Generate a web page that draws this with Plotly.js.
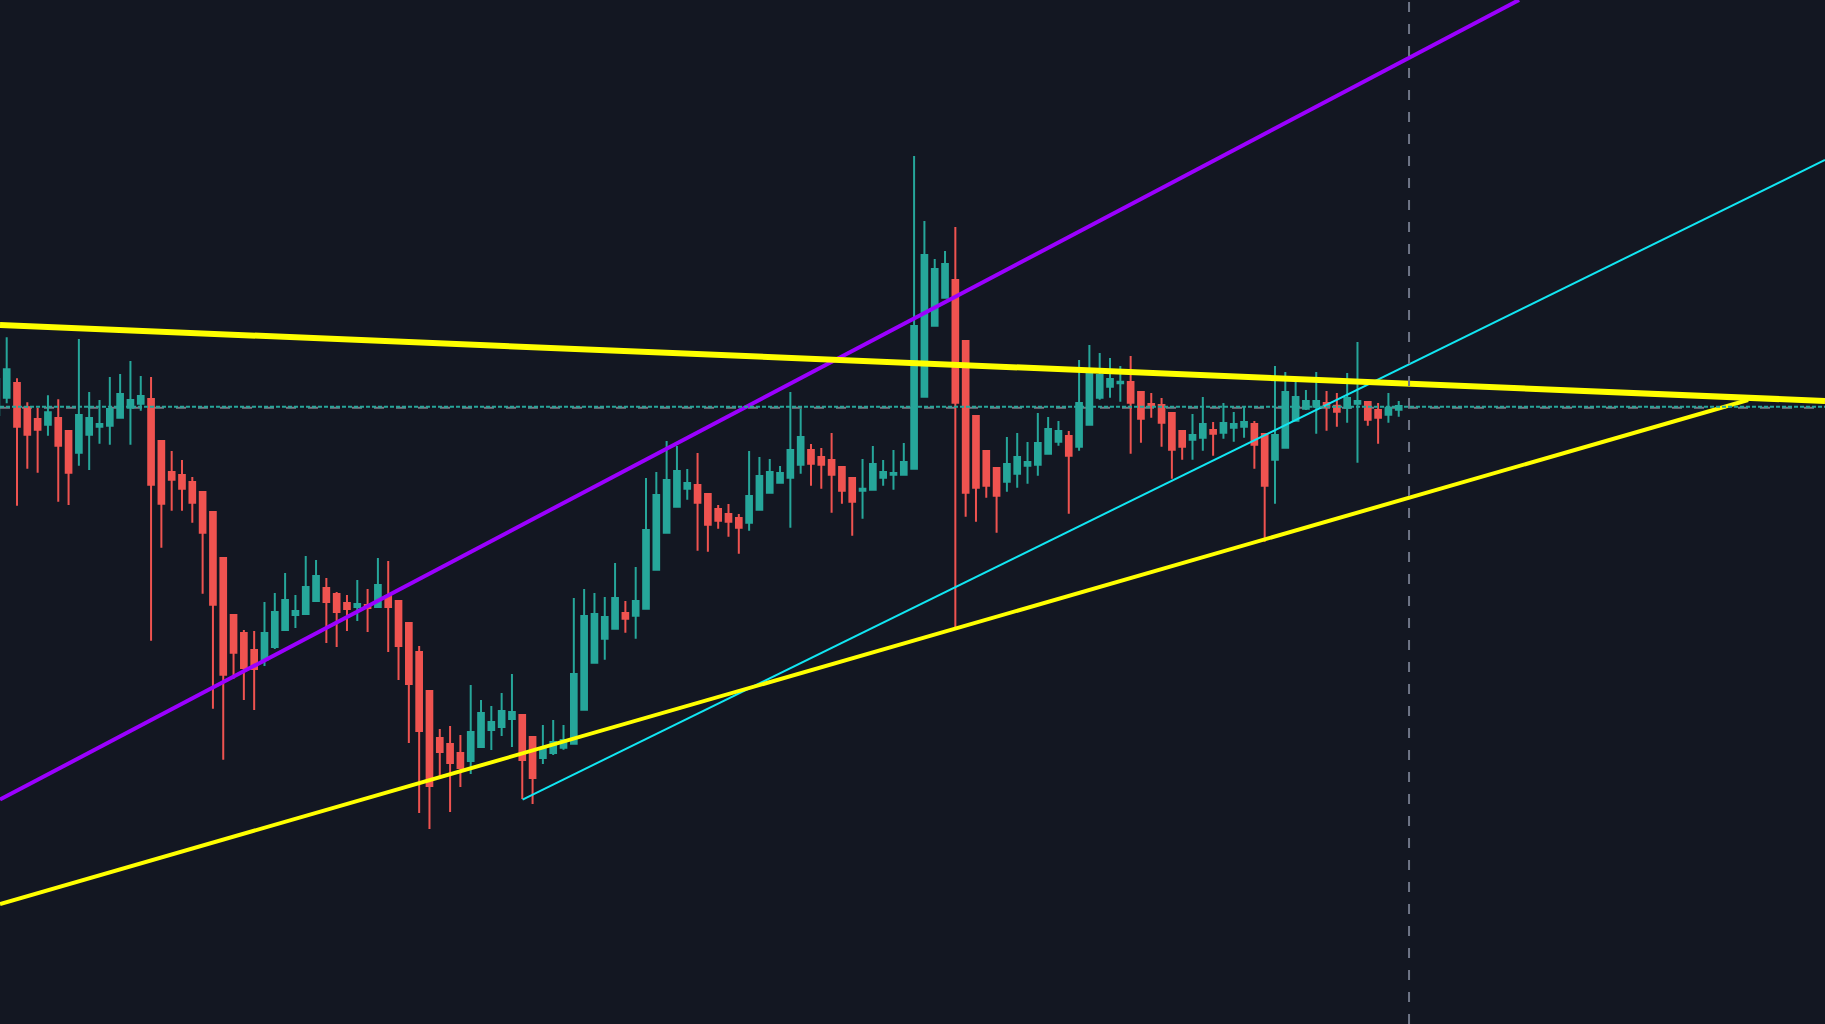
<!DOCTYPE html>
<html>
<head>
<meta charset="utf-8">
<script src="https://cdn.plot.ly/plotly-3.0.1.min.js"></script>
<style>
  html, body { margin: 0; padding: 0; background: #131722; overflow: hidden; }
  #chart { width: 1825px; height: 1024px; }
</style>
</head>
<body>
<div id="chart"></div>
<script>
// ---- Candle data (bar index -1 .. 135) ----
const openP = [
  60.9, 62.63, 64.1, 61.67, 60.5, 59.93, 60.6, 59.3, 57.13, 58.93, 59.73,
  59.83, 60.63, 61.63, 62.03, 62.5, 58.3, 55.2, 54.9, 54.2, 53.2,
  51.2, 46.6, 40.9, 39.1, 37.4, 36.4, 37.7, 39.4, 40.9, 41.0,
  42.3, 43.6, 43.0, 42.1, 41.7, 41.9, 41.7, 42.8, 42.3, 40.1,
  37.2, 33.3, 28.6, 28.0, 27.1, 26.3, 27.7, 29.4, 29.7, 30.5,
  30.9, 28.7, 26.6, 27.1, 27.63, 28.03, 31.43, 36.13, 38.53, 39.53,
  41.1, 40.83, 41.53, 45.43, 49.13, 51.73, 53.53, 53.9, 53.0, 51.5,
  51.0, 50.6, 50.13, 51.43, 53.13, 54.13, 54.63, 55.93, 57.4, 56.7,
  56.4, 55.7, 54.6, 53.33, 53.43, 54.63, 54.93, 54.93, 55.53, 62.73,
  69.83, 72.63, 74.4, 68.3, 60.8, 57.3, 55.6, 54.23, 55.03, 55.83,
  55.93, 57.03, 58.23, 58.8, 57.73, 59.93, 62.63, 63.73, 64.07, 64.2,
  63.2, 62.0, 61.9, 61.1, 59.3, 58.43, 58.63, 59.4, 59.13, 59.63,
  59.73, 60.0, 59.0, 56.43, 57.63, 60.33, 61.53, 61.73, 62.1, 61.83,
  61.63, 62.03, 62.2, 61.4, 60.93, 61.43
];
const highP = [
  65.2, 68.67, 64.57, 62.17, 61.63, 62.87, 62.47, 59.3, 68.5, 63.2, 62.4,
  64.7, 65.0, 66.3, 64.8, 64.7, 58.3, 57.3, 56.4, 54.7, 53.3,
  51.2, 46.6, 40.9, 39.4, 39.3, 42.2, 43.1, 45.1, 42.9, 46.8,
  46.4, 44.6, 43.2, 42.9, 44.4, 43.5, 46.6, 46.3, 42.3, 40.1,
  37.8, 33.3, 29.5, 29.8, 28.9, 33.9, 32.4, 31.8, 33.1, 35.0,
  31.0, 28.7, 29.9, 30.4, 29.9, 42.6, 43.5, 43.1, 42.7, 46.1,
  42.3, 45.7, 54.6, 55.2, 58.3, 57.8, 55.5, 57.1, 53.0, 51.9,
  52.0, 51.0, 57.3, 56.7, 56.5, 55.8, 63.2, 61.5, 58.0, 57.6,
  59.1, 55.7, 54.6, 56.5, 57.8, 56.4, 57.4, 58.1, 86.8, 80.3,
  76.5, 77.3, 79.7, 68.3, 60.8, 57.3, 55.6, 58.7, 59.1, 58.2,
  61.1, 60.7, 60.3, 59.3, 66.4, 67.9, 67.1, 66.6, 65.8, 66.8,
  63.2, 63.1, 62.6, 61.1, 59.3, 61.0, 62.7, 60.2, 62.1, 61.2,
  61.7, 60.3, 59.0, 65.8, 65.2, 64.2, 63.4, 65.2, 63.3, 63.1,
  65.1, 68.2, 62.2, 62.1, 63.1, 62.3
];
const lowP = [
  60.4, 62.07, 51.83, 55.53, 55.13, 58.83, 52.23, 51.9, 55.83, 55.4, 58.03,
  57.93, 60.6, 57.93, 61.33, 38.33, 47.63, 51.33, 51.33, 50.13, 43.03,
  31.53, 26.43, 34.53, 32.4, 31.4, 35.8, 37.5, 39.4, 39.6, 41.0,
  42.3, 38.1, 37.7, 39.3, 40.3, 39.2, 41.7, 37.2, 34.4, 28.1,
  21.1, 19.5, 24.7, 21.2, 23.7, 25.0, 27.7, 27.4, 28.8, 27.7,
  22.5, 22.0, 26.0, 26.9, 27.43, 28.03, 31.43, 36.13, 36.43, 39.53,
  39.13, 38.53, 41.53, 45.43, 49.13, 51.73, 52.43, 47.33, 47.23, 49.53,
  48.73, 47.03, 49.33, 51.43, 53.13, 54.13, 49.63, 55.03, 53.83, 53.53,
  51.13, 52.03, 48.83, 50.53, 53.43, 53.83, 53.43, 54.83, 55.53, 62.73,
  69.83, 72.63, 39.7, 50.73, 50.23, 52.63, 49.13, 53.23, 53.63, 54.03,
  54.83, 57.03, 57.83, 51.03, 57.33, 59.93, 62.43, 62.63, 62.23, 57.03,
  58.13, 60.63, 57.73, 54.53, 56.43, 56.43, 57.33, 56.83, 58.53, 58.23,
  58.63, 55.53, 48.23, 52.03, 57.63, 60.33, 61.4, 59.03, 59.33, 59.73,
  60.13, 56.13, 59.83, 58.03, 60.13, 60.73
];
const closeP = [
  64.5, 65.47, 59.73, 58.93, 59.43, 61.17, 57.83, 55.13, 60.9, 60.6, 60.0,
  61.5, 63.0, 62.4, 62.8, 53.93, 52.03, 54.43, 53.53, 52.13, 49.13,
  41.93, 34.93, 37.13, 35.6, 35.5, 39.1, 41.2, 42.4, 41.3, 43.7,
  44.8, 42.2, 41.2, 41.5, 42.0, 41.6, 43.9, 41.7, 37.8, 34.0,
  29.3, 23.8, 27.2, 26.1, 25.6, 29.2, 31.1, 30.2, 31.3, 31.2,
  26.4, 24.6, 27.6, 28.2, 28.4, 35.0, 40.8, 41.0, 40.7, 42.6,
  40.53, 42.3, 49.4, 52.9, 54.4, 55.3, 54.1, 52.13, 49.93, 50.33,
  50.23, 49.63, 52.8, 54.8, 55.2, 55.1, 57.4, 58.7, 56.03, 55.93,
  54.93, 53.33, 52.23, 53.53, 56.0, 55.2, 55.1, 56.2, 69.8, 76.9,
  75.5, 76.0, 62.13, 53.13, 53.63, 53.83, 52.83, 56.0, 56.7, 56.2,
  58.1, 59.5, 59.3, 56.83, 62.1, 65.3, 64.9, 64.5, 64.23, 62.13,
  60.53, 61.83, 60.13, 57.43, 57.73, 58.9, 60.0, 59.03, 60.1, 60.0,
  60.2, 57.93, 53.83, 58.9, 63.2, 62.7, 62.3, 62.3, 61.73, 61.23,
  62.6, 62.3, 60.43, 60.63, 61.63, 61.8
];
const bars = openP.map((_, i) => i - 1);   // bar index of each candle

// ---- Drawn trend lines (bar index, price) ----
const upperYellowX = [-0.65, 176.34];
const upperYellowY = [69.9, 62.3];
const lowerYellowX = [-0.65, 168.88];
const lowerYellowY = [12.0, 62.4];
const purpleX = [-0.65, 146.67];
const purpleY = [22.44, 102.4];
const cyanX = [50.03, 176.34];
const cyanY = [22.44, 86.4];
const priceLine = 61.73;     // horizontal dashed level
const cursorBar = 136;       // vertical dashed line position

const UP = '#26a69a', DOWN = '#ef5350';

const traces = [
  {
    type: 'candlestick', x: bars, open: openP, high: highP, low: lowP, close: closeP,
    increasing: { line: { color: UP, width: 2 }, fillcolor: UP },
    decreasing: { line: { color: DOWN, width: 2 }, fillcolor: DOWN },
    whiskerwidth: 0, hoverinfo: 'skip', showlegend: false
  },
  { type: 'scatter', mode: 'lines', x: purpleX, y: purpleY,
    line: { color: '#9b00ff', width: 4 }, hoverinfo: 'skip', showlegend: false },
  { type: 'scatter', mode: 'lines', x: cyanX, y: cyanY,
    line: { color: '#12e6f2', width: 2 }, hoverinfo: 'skip', showlegend: false },
  { type: 'scatter', mode: 'lines', x: lowerYellowX, y: lowerYellowY,
    line: { color: '#ffff00', width: 4 }, hoverinfo: 'skip', showlegend: false },
  { type: 'scatter', mode: 'lines', x: upperYellowX, y: upperYellowY,
    line: { color: '#ffff00', width: 6 }, hoverinfo: 'skip', showlegend: false }
];

const layout = {
  width: 1825, height: 1024,
  margin: { l: 0, r: 0, t: 0, b: 0, pad: 0 },
  paper_bgcolor: '#131722', plot_bgcolor: '#131722',
  showlegend: false,
  boxgap: 0.45, boxgroupgap: 0,
  xaxis: { range: [-0.65, 176.34], visible: false, showgrid: false, zeroline: false,
           rangeslider: { visible: false }, fixedrange: true },
  yaxis: { range: [0, 102.4], visible: false, showgrid: false, zeroline: false, fixedrange: true },
  shapes: [
    { type: 'line', xref: 'paper', x0: 0, x1: 1, yref: 'y', y0: priceLine - 0.1, y1: priceLine - 0.1,
      line: { color: '#787b86', width: 2, dash: '10px,12px' }, layer: 'below' },
    { type: 'line', xref: 'paper', x0: 0, x1: 1, yref: 'y', y0: priceLine, y1: priceLine,
      line: { color: '#26a69a', width: 2, dash: '4px,2px' }, layer: 'above' },
    { type: 'line', xref: 'x', x0: cursorBar, x1: cursorBar, yref: 'paper', y0: 0, y1: 1,
      line: { color: '#6f7687', width: 2, dash: '10px,12px' }, layer: 'above' }
  ]
};

Plotly.newPlot('chart', traces, layout, { staticPlot: true, displayModeBar: false });
</script>
</body>
</html>
